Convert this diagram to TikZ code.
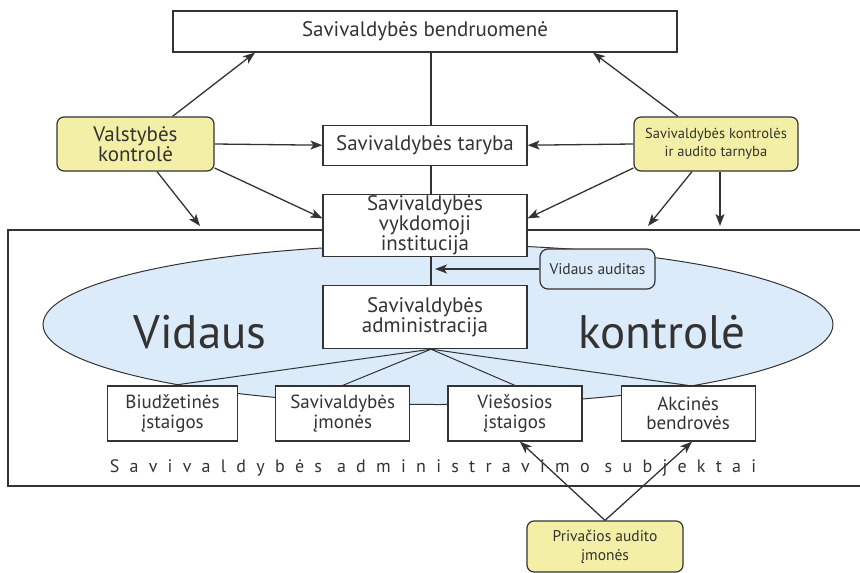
\documentclass[tikz,border=0pt]{standalone}
\usepackage{fontspec}
\setmainfont{PT Sans}
\usetikzlibrary{positioning,arrows.meta}
\definecolor{ink}{HTML}{333333}
\definecolor{paleyellow}{HTML}{F3EFA6}
\definecolor{paleblue}{HTML}{DCEBF9}

\begin{document}
\begin{tikzpicture}[x=1pt,y=-1pt,>={Stealth[length=12pt,width=9pt,inset=3pt]},
  box/.style={draw=ink,line width=1.2pt,fill=white,align=center,inner sep=0pt,text=ink},
  ctrl/.style={box,fill=paleyellow,rounded corners=7pt},
  link/.style={draw=ink,line width=1.3pt},
  arr/.style={link,->}]
\useasboundingbox (0,0) rectangle (860,573);
% frame and the oval
\draw[link] (860,230) -- (8,230) -- (8,486) -- (860,486);
\draw[draw=ink,line width=1pt,fill=paleblue] (438,324.5) ellipse [x radius=395pt,y radius=80pt];

\node[box,minimum width=504pt,minimum height=41pt,font=\fontsize{21}{21}\selectfont] (comm) at (425,31.5) {Savivaldybės bendruomenė};
\node[box,minimum width=204pt,minimum height=40pt,below=72pt of comm,font=\fontsize{21}{21}\selectfont] (council) {Savivaldybės taryba};
\node[box,minimum width=204pt,minimum height=62pt,below=28pt of council,font=\fontsize{21}{17.5}\selectfont] (exec) {Savivaldybės\\vykdomoji\\institucija};
\node[box,minimum width=204pt,minimum height=63pt,below=28pt of exec,font=\fontsize{21}{18.5}\selectfont] (admin) {Savivaldybės\\administracija};

% subjects
\tikzset{subject/.style={box,minimum width=134pt,minimum height=55pt,font=\fontsize{19}{19.5}\selectfont}}
\node[subject,minimum width=130pt] (budget) at (172.5,413.5) {Biudžetinės\\įstaigos};
\node[subject,right=37pt of budget] (firms) {Savivaldybės\\įmonės};
\node[subject,right=37pt of firms] (public) {Viešosios\\įstaigos};
\node[subject,right=38pt of public] (joint) {Akcinės\\bendrovės};

\node[ctrl,minimum width=157pt,minimum height=54pt,font=\fontsize{21}{19}\selectfont] (state) at (135.5,144) {Valstybės\\kontrolė};
\node[ctrl,minimum width=164pt,minimum height=54pt,font=\fontsize{14.5}{18}\selectfont] (audit) at (716,144) {Savivaldybės kontrolės\\ir audito tarnyba};
\node[box,fill=paleblue,rounded corners=8pt,minimum width=115pt,minimum height=40pt,font=\fontsize{15.5}{15.5}\selectfont] (internal) at (597.5,269) {Vidaus auditas};
\node[ctrl,minimum width=156pt,minimum height=51pt,font=\fontsize{15.5}{19}\selectfont] (private) at (605,546.5) {Privačios audito\\įmonės};

\node[anchor=base,text=ink,font=\fontsize{47}{47}\selectfont] (vid) at (200,348) {Vidaus};
\node[anchor=base,text=ink,font=\fontsize{47}{47}\selectfont] (ctl) at (662,348) {kontrolė};
\node[anchor=base,text=ink,font=\fontsize{18}{18}\selectfont\addfontfeatures{LetterSpace=57}] (subj) at (433,472) {Savivaldybės administravimo subjektai};

% the spine
\draw[link] ([xshift=6pt]comm.south) -- ([xshift=6pt]council.north);
\draw[link] ([xshift=6pt]council.south) -- ([xshift=6pt]exec.north);
\draw[link] ([xshift=6pt]exec.south) -- ([xshift=6pt]admin.north);
\coordinate (vline) at ([xshift=10pt]admin.north);
\draw[arr] (internal.west) -- (internal.west -| vline);
\foreach \s in {budget,firms,public,joint}
  \draw[link,line width=1pt] ([xshift=6pt]admin.south) -- (\s.north);

% external control
\coordinate (stateTip) at (200,226);
\coordinate (auditTipA) at (648,226);
\coordinate (auditTipB) at (720,226);
\draw[arr] ([xshift=37pt]state.north) -- ([xshift=-170pt]comm.south);
\draw[arr] (state.east) -- (council.west);
\draw[arr] ([yshift=-24pt]state.east) -- ([yshift=7pt]exec.west);
\draw[arr] ([xshift=21.5pt]state.south) -- (stateTip);
\draw[arr] ([xshift=-38pt]audit.north) -- ([xshift=168pt]comm.south);
\draw[arr] (audit.west) -- (council.east);
\draw[arr] ([yshift=-24pt]audit.west) -- ([yshift=7pt]exec.east);
\draw[arr] ([xshift=-24pt]audit.south) -- (auditTipA);
\draw[arr] ([xshift=4pt]audit.south) -- (auditTipB);
\draw[arr] (private.north) -- ([xshift=5pt]public.south);
\draw[arr] (private.north) -- ([xshift=4pt]joint.south);
\end{tikzpicture}
\end{document}
